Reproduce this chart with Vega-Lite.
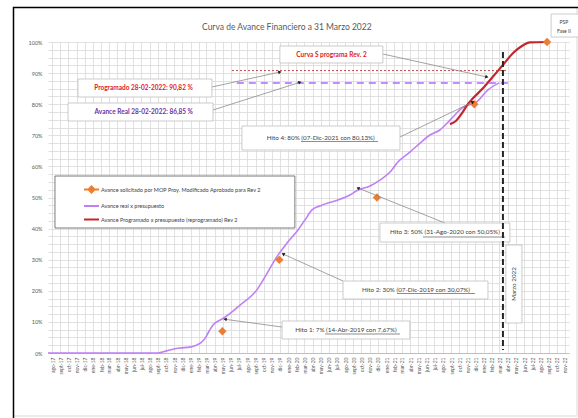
{
  "$schema": "https://vega.github.io/schema/vega-lite/v6.json",
  "width": 521,
  "height": 311,
  "autosize": {"type": "none"},
  "padding": {"left": 48, "top": 42, "right": 9, "bottom": 65},
  "background": "white",
  "config": {"font": "Lato", "view": {"stroke": null}},
  "datasets": {
    "curvas": [
      {"fecha": "2017-07-17", "avance": 0, "serie": "Avance real x presupuesto"},
      {"fecha": "2018-09-01", "avance": 0, "serie": "Avance real x presupuesto"},
      {"fecha": "2018-10-01", "avance": 0.006, "serie": "Avance real x presupuesto"},
      {"fecha": "2018-10-27", "avance": 0.012, "serie": "Avance real x presupuesto"},
      {"fecha": "2018-11-22", "avance": 0.016, "serie": "Avance real x presupuesto"},
      {"fecha": "2018-12-30", "avance": 0.019, "serie": "Avance real x presupuesto"},
      {"fecha": "2019-01-25", "avance": 0.026, "serie": "Avance real x presupuesto"},
      {"fecha": "2019-02-09", "avance": 0.033, "serie": "Avance real x presupuesto"},
      {"fecha": "2019-02-24", "avance": 0.047, "serie": "Avance real x presupuesto"},
      {"fecha": "2019-03-11", "avance": 0.07, "serie": "Avance real x presupuesto"},
      {"fecha": "2019-03-26", "avance": 0.09, "serie": "Avance real x presupuesto"},
      {"fecha": "2019-04-13", "avance": 0.102, "serie": "Avance real x presupuesto"},
      {"fecha": "2019-05-02", "avance": 0.111, "serie": "Avance real x presupuesto"},
      {"fecha": "2019-07-05", "avance": 0.154, "serie": "Avance real x presupuesto"},
      {"fecha": "2019-09-06", "avance": 0.203, "serie": "Avance real x presupuesto"},
      {"fecha": "2019-10-14", "avance": 0.256, "serie": "Avance real x presupuesto"},
      {"fecha": "2019-11-20", "avance": 0.31, "serie": "Avance real x presupuesto"},
      {"fecha": "2019-12-27", "avance": 0.353, "serie": "Avance real x presupuesto"},
      {"fecha": "2020-02-06", "avance": 0.395, "serie": "Avance real x presupuesto"},
      {"fecha": "2020-03-04", "avance": 0.428, "serie": "Avance real x presupuesto"},
      {"fecha": "2020-03-30", "avance": 0.46, "serie": "Avance real x presupuesto"},
      {"fecha": "2020-04-29", "avance": 0.473, "serie": "Avance real x presupuesto"},
      {"fecha": "2020-06-24", "avance": 0.489, "serie": "Avance real x presupuesto"},
      {"fecha": "2020-08-19", "avance": 0.508, "serie": "Avance real x presupuesto"},
      {"fecha": "2020-09-18", "avance": 0.524, "serie": "Avance real x presupuesto"},
      {"fecha": "2020-11-02", "avance": 0.537, "serie": "Avance real x presupuesto"},
      {"fecha": "2020-12-09", "avance": 0.556, "serie": "Avance real x presupuesto"},
      {"fecha": "2021-01-16", "avance": 0.582, "serie": "Avance real x presupuesto"},
      {"fecha": "2021-02-14", "avance": 0.614, "serie": "Avance real x presupuesto"},
      {"fecha": "2021-03-31", "avance": 0.646, "serie": "Avance real x presupuesto"},
      {"fecha": "2021-05-08", "avance": 0.675, "serie": "Avance real x presupuesto"},
      {"fecha": "2021-06-14", "avance": 0.701, "serie": "Avance real x presupuesto"},
      {"fecha": "2021-07-21", "avance": 0.717, "serie": "Avance real x presupuesto"},
      {"fecha": "2021-08-28", "avance": 0.749, "serie": "Avance real x presupuesto"},
      {"fecha": "2021-10-15", "avance": 0.79, "serie": "Avance real x presupuesto"},
      {"fecha": "2021-12-07", "avance": 0.808, "serie": "Avance real x presupuesto"},
      {"fecha": "2022-01-17", "avance": 0.846, "serie": "Avance real x presupuesto"},
      {"fecha": "2022-02-28", "avance": 0.8685, "serie": "Avance real x presupuesto"},
      {"fecha": "2021-08-28", "avance": 0.736, "serie": "Avance Programado x presupuesto (reprogramado) Rev 2"},
      {"fecha": "2021-09-19", "avance": 0.746, "serie": "Avance Programado x presupuesto (reprogramado) Rev 2"},
      {"fecha": "2021-10-12", "avance": 0.771, "serie": "Avance Programado x presupuesto (reprogramado) Rev 2"},
      {"fecha": "2021-10-31", "avance": 0.797, "serie": "Avance Programado x presupuesto (reprogramado) Rev 2"},
      {"fecha": "2021-11-22", "avance": 0.819, "serie": "Avance Programado x presupuesto (reprogramado) Rev 2"},
      {"fecha": "2021-12-29", "avance": 0.851, "serie": "Avance Programado x presupuesto (reprogramado) Rev 2"},
      {"fecha": "2022-02-05", "avance": 0.889, "serie": "Avance Programado x presupuesto (reprogramado) Rev 2"},
      {"fecha": "2022-03-14", "avance": 0.926, "serie": "Avance Programado x presupuesto (reprogramado) Rev 2"},
      {"fecha": "2022-04-20", "avance": 0.964, "serie": "Avance Programado x presupuesto (reprogramado) Rev 2"},
      {"fecha": "2022-05-24", "avance": 0.987, "serie": "Avance Programado x presupuesto (reprogramado) Rev 2"},
      {"fecha": "2022-06-23", "avance": 0.999, "serie": "Avance Programado x presupuesto (reprogramado) Rev 2"},
      {"fecha": "2022-08-26", "avance": 1.0, "serie": "Avance Programado x presupuesto (reprogramado) Rev 2"}
    ],
    "hitos": [
      {"fecha": "2019-04-30", "avance": 0.07},
      {"fecha": "2019-11-29", "avance": 0.30},
      {"fecha": "2020-11-28", "avance": 0.50},
      {"fecha": "2021-11-27", "avance": 0.80},
      {"fecha": "2022-08-26", "avance": 1.0}
    ],
    "marcos": [
      {"fecha": "2017-03-10", "fecha2": "2022-12-16", "avance": 1.111, "avance2": -0.2026}
    ],
    "marco_negro": [
      {"fecha": "2017-03-10", "fecha2": "2023-06-01", "avance": 1.111, "avance2": -0.35}
    ],
    "titulo": [
      {"fecha": "2019-12-27", "avance": 1.0482, "texto": "Curva de Avance Financiero a 31 Marzo 2022"}
    ],
    "caja_leyenda": [
      {"fecha": "2017-08-12", "fecha2": "2020-01-26", "avance": 0.5691, "avance2": 0.4019}
    ],
    "cajas": [
      {"nota": "Curva S", "fecha": "2019-12-01", "fecha2": "2020-12-20", "avance": 0.9871, "avance2": 0.9325},
      {"nota": "Programado", "fecha": "2017-11-06", "fecha2": "2019-03-22", "avance": 0.881, "avance2": 0.8232},
      {"nota": "Avance Real", "fecha": "2017-09-30", "fecha2": "2019-03-26", "avance": 0.8039, "avance2": 0.746},
      {"nota": "Hito 4", "fecha": "2019-07-12", "fecha2": "2021-02-22", "avance": 0.7299, "avance2": 0.6527},
      {"nota": "Hito 3", "fecha": "2020-12-09", "fecha2": "2022-04-09", "avance": 0.418, "avance2": 0.3569},
      {"nota": "Hito 2", "fecha": "2020-07-24", "fecha2": "2022-01-17", "avance": 0.2315, "avance2": 0.1736},
      {"nota": "Hito 1", "fecha": "2019-12-09", "fecha2": "2021-03-31", "avance": 0.1029, "avance2": 0.045},
      {"nota": "Marzo", "fecha": "2022-03-25", "fecha2": "2022-05-24", "avance": 0.3473, "avance2": 0.0965},
      {"nota": "PSP", "fecha": "2022-09-10", "fecha2": "2022-12-31", "avance": 1.09, "avance2": 1.016}
    ],
    "subrayados": [
      {"fecha": "2020-02-18", "fecha2": "2020-12-02", "avance": 0.6801},
      {"fecha": "2021-05-19", "fecha2": "2022-03-22", "avance": 0.373},
      {"fecha": "2021-02-11", "fecha2": "2021-11-30", "avance": 0.1913},
      {"fecha": "2020-05-18", "fecha2": "2021-02-22", "avance": 0.0611}
    ],
    "ref_programado": [
      {"fecha": "2019-06-05", "fecha2": "2022-04-02", "avance": 0.9082}
    ],
    "ref_real": [
      {"fecha": "2019-06-23", "fecha2": "2022-04-17", "avance": 0.8685}
    ],
    "flechas": [
      {"fecha": "2020-12-20", "avance": 0.9614, "fecha2": "2022-01-13", "avance2": 0.8875},
      {"fecha": "2019-03-22", "avance": 0.8553, "fecha2": "2019-12-01", "avance2": 0.9035},
      {"fecha": "2019-03-26", "avance": 0.7814, "fecha2": "2020-02-14", "avance2": 0.8704},
      {"fecha": "2021-02-22", "avance": 0.6945, "fecha2": "2021-11-22", "avance2": 0.8071},
      {"fecha": "2021-08-09", "avance": 0.418, "fecha2": "2020-09-18", "avance2": 0.5305},
      {"fecha": "2020-07-24", "avance": 0.2315, "fecha2": "2019-12-13", "avance2": 0.3183},
      {"fecha": "2019-12-09", "avance": 0.0836, "fecha2": "2019-05-10", "avance2": 0.1084}
    ],
    "puntas": [
      {"fecha": "2022-01-13", "avance": 0.8875, "angulo": 102.5},
      {"fecha": "2019-12-01", "avance": 0.9035, "angulo": 77.6},
      {"fecha": "2020-02-14", "avance": 0.8704, "angulo": 72.3},
      {"fecha": "2021-11-22", "avance": 0.8071, "angulo": 64.4},
      {"fecha": "2020-09-18", "avance": 0.5305, "angulo": -68.1},
      {"fecha": "2019-12-13", "avance": 0.3183, "angulo": -65.7},
      {"fecha": "2019-05-10", "avance": 0.1084, "angulo": -82.3}
    ],
    "marzo": [
      {"fecha": "2022-03-14", "avance": 0.968, "avance2": 0.01}
    ],
    "textos_rojos": [
      {"fecha": "2020-06-11", "avance": 0.9598, "texto": "Curva S programa Rev. 2"},
      {"fecha": "2018-07-09", "avance": 0.8521, "texto": "Programado 28-02-2022: 90,82 %"}
    ],
    "textos_morados": [
      {"fecha": "2018-07-10", "avance": 0.7749, "texto": "Avance Real 28-02-2022: 86,85 %"}
    ],
    "textos_hitos": [
      {"fecha": "2020-05-02", "avance": 0.6913, "texto": "Hito 4: 80% (07-Dic-2021 con 80,13%)"},
      {"fecha": "2021-08-09", "avance": 0.3875, "texto": "Hito 3: 50% (31-Ago-2020 con 50,05%)"},
      {"fecha": "2021-04-23", "avance": 0.2026, "texto": "Hito 2: 30% (07-Dic-2019 con 30,07%)"},
      {"fecha": "2020-08-04", "avance": 0.074, "texto": "Hito 1: 7% (14-Abr-2019 con 7,67%)"}
    ],
    "texto_marzo": [
      {"fecha": "2022-04-24", "avance": 0.2219, "texto": "Marzo 2022"}
    ],
    "texto_psp": [
      {"fecha": "2022-10-28", "avance": 1.0643, "texto": "PSP"},
      {"fecha": "2022-10-28", "avance": 1.0354, "texto": "Fase II"}
    ]
  },
  "encoding": {
    "x": {
      "field": "fecha", "type": "temporal",
      "scale": {"type": "utc", "domain": [{"year": 2017, "month": 7, "date": 17, "utc": true}, {"year": 2022, "month": 11, "date": 16, "utc": true}], "nice": false},
      "axis": {
        "title": null, "tickCount": {"interval": "month", "step": 1},
        "labelExpr": "['ene','feb','mar','abr','may','jun','jul','ago','sept','oct','nov','dic'][utcmonth(datum.value)] + '-' + utcFormat(datum.value, '%y')",
        "labelAngle": 270, "labelFontSize": 5, "labelColor": "#595959", "labelPadding": 4,
        "labelOverlap": false, "labelFlush": false, "ticks": false,
        "domain": true, "domainColor": "#BFBFBF", "domainWidth": 1,
        "grid": true, "gridColor": "#D9D9D9", "gridWidth": 0.8
      }
    },
    "y": {
      "field": "avance", "type": "quantitative",
      "scale": {"domain": [0, 1], "nice": false, "zero": true},
      "axis": {
        "title": null,
        "values": [0, 0.025, 0.05, 0.075, 0.1, 0.125, 0.15, 0.175, 0.2, 0.225, 0.25, 0.275, 0.3, 0.325, 0.35, 0.375, 0.4, 0.425, 0.45, 0.475, 0.5, 0.525, 0.55, 0.575, 0.6, 0.625, 0.65, 0.675, 0.7, 0.725, 0.75, 0.775, 0.8, 0.825, 0.85, 0.875, 0.9, 0.925, 0.95, 0.975, 1],
        "labelExpr": "round(datum.value * 1000) % 100 == 0 ? format(datum.value, '.0%') : ''",
        "labelFontSize": 5.5, "labelColor": "#595959", "labelPadding": 6,
        "ticks": false, "domain": false,
        "grid": true, "gridColor": "#D9D9D9", "gridWidth": 0.8
      }
    }
  },
  "layer": [
    {
      "data": {"name": "marcos"},
      "mark": {"type": "rect", "fill": null, "stroke": "#D9D9D9", "strokeWidth": 1, "clip": false},
      "encoding": {"x2": {"field": "fecha2"}, "y2": {"field": "avance2"}}
    },
    {
      "data": {"name": "marco_negro"},
      "mark": {"type": "rect", "fill": null, "stroke": "#000000", "strokeWidth": 1.5, "clip": false},
      "encoding": {"x2": {"field": "fecha2"}, "y2": {"field": "avance2"}}
    },
    {
      "data": {"name": "titulo"},
      "mark": {"type": "text", "color": "#595959", "fontSize": 8.5, "align": "center", "baseline": "middle", "clip": false},
      "encoding": {"text": {"field": "texto"}}
    },
    {
      "data": {"name": "curvas"},
      "mark": {"type": "line", "interpolate": "monotone"},
      "encoding": {
        "color": {
          "field": "serie", "type": "nominal",
          "scale": {
            "domain": ["Avance solicitado por MOP Proy. Modificado Aprobado para Rev 2", "Avance real x presupuesto", "Avance Programado x presupuesto (reprogramado) Rev 2"],
            "range": ["#ED7D31", "#BF7FF5", "#C0282D"]
          },
          "legend": {
            "title": null, "orient": "none", "legendX": 35, "legendY": 139,
            "symbolType": "M-1,0H1", "symbolSize": 225, "symbolStrokeWidth": 2,
            "labelFontSize": 5.5, "labelFont": "Lato", "labelColor": "#404040", "labelLimit": 400, "labelOffset": 1,
            "rowPadding": 0.5, "padding": 0,
            "encode": {
              "symbols": {
                "update": {
                  "shape": {"signal": "datum.value === 'Avance solicitado por MOP Proy. Modificado Aprobado para Rev 2' ? 'M-1,0H1M0,-0.4L0.4,0L0,0.4L-0.4,0Z' : 'M-1,0H1'"},
                  "fill": {"signal": "datum.value === 'Avance solicitado por MOP Proy. Modificado Aprobado para Rev 2' ? '#ED7D31' : 'transparent'"},
                  "stroke": {"signal": "datum.value === 'Avance solicitado por MOP Proy. Modificado Aprobado para Rev 2' ? '#ED7D31' : datum.value === 'Avance real x presupuesto' ? '#BF7FF5' : '#C0282D'"},
                  "strokeWidth": {"value": 2},
                  "opacity": {"value": 1}
                }
              }
            }
          }
        },
        "strokeWidth": {
          "field": "serie", "type": "ordinal",
          "scale": {"domain": ["Avance real x presupuesto", "Avance Programado x presupuesto (reprogramado) Rev 2"], "range": [1.6, 2.2]},
          "legend": null
        }
      }
    },
    {
      "data": {"name": "ref_programado"},
      "mark": {"type": "rule", "color": "#C0504D", "strokeWidth": 1, "strokeDash": [2, 2]},
      "encoding": {"x2": {"field": "fecha2"}}
    },
    {
      "data": {"name": "ref_real"},
      "mark": {"type": "rule", "color": "#B266FF", "strokeWidth": 1.5, "strokeDash": [7, 5]},
      "encoding": {"x2": {"field": "fecha2"}}
    },
    {
      "data": {"name": "hitos"},
      "mark": {"type": "point", "shape": "diamond", "filled": true, "fill": "#ED7D31", "size": 70, "opacity": 1}
    },
    {
      "data": {"name": "caja_leyenda"},
      "mark": {"type": "rect", "fill": "white", "stroke": "#595959", "strokeWidth": 0.8},
      "encoding": {"x2": {"field": "fecha2"}, "y2": {"field": "avance2"}}
    },
    {
      "data": {"name": "flechas"},
      "mark": {"type": "rule", "color": "#8C8C8C", "strokeWidth": 0.8},
      "encoding": {"x2": {"field": "fecha2"}, "y2": {"field": "avance2"}}
    },
    {
      "data": {"name": "puntas"},
      "mark": {"type": "point", "shape": "triangle-up", "filled": true, "fill": "#1A1A1A", "size": 14, "opacity": 1},
      "encoding": {"angle": {"field": "angulo", "type": "quantitative", "scale": null}}
    },
    {
      "data": {"name": "cajas"},
      "mark": {"type": "rect", "fill": "white", "stroke": "#BFBFBF", "strokeWidth": 0.8, "clip": false},
      "encoding": {"x2": {"field": "fecha2"}, "y2": {"field": "avance2"}}
    },
    {
      "data": {"name": "subrayados"},
      "mark": {"type": "rule", "color": "#404040", "strokeWidth": 0.6},
      "encoding": {"x2": {"field": "fecha2"}}
    },
    {
      "data": {"name": "textos_rojos"},
      "mark": {"type": "text", "color": "#E0201B", "fontSize": 6.5, "fontWeight": "bold", "align": "center", "baseline": "middle"},
      "encoding": {"text": {"field": "texto"}}
    },
    {
      "data": {"name": "textos_morados"},
      "mark": {"type": "text", "color": "#7030A0", "fontSize": 6.5, "fontWeight": "bold", "align": "center", "baseline": "middle"},
      "encoding": {"text": {"field": "texto"}}
    },
    {
      "data": {"name": "textos_hitos"},
      "mark": {"type": "text", "color": "#404040", "fontSize": 6.3, "align": "center", "baseline": "middle"},
      "encoding": {"text": {"field": "texto"}}
    },
    {
      "data": {"name": "texto_marzo"},
      "mark": {"type": "text", "color": "#404040", "fontSize": 6.3, "angle": 270, "align": "center", "baseline": "middle"},
      "encoding": {"text": {"field": "texto"}}
    },
    {
      "data": {"name": "texto_psp"},
      "mark": {"type": "text", "color": "#404040", "fontSize": 5, "align": "center", "baseline": "middle", "clip": false},
      "encoding": {"text": {"field": "texto"}}
    },
    {
      "data": {"name": "marzo"},
      "mark": {"type": "rule", "color": "#262626", "strokeWidth": 2, "strokeDash": [6, 3]},
      "encoding": {"y2": {"field": "avance2"}}
    }
  ]
}
